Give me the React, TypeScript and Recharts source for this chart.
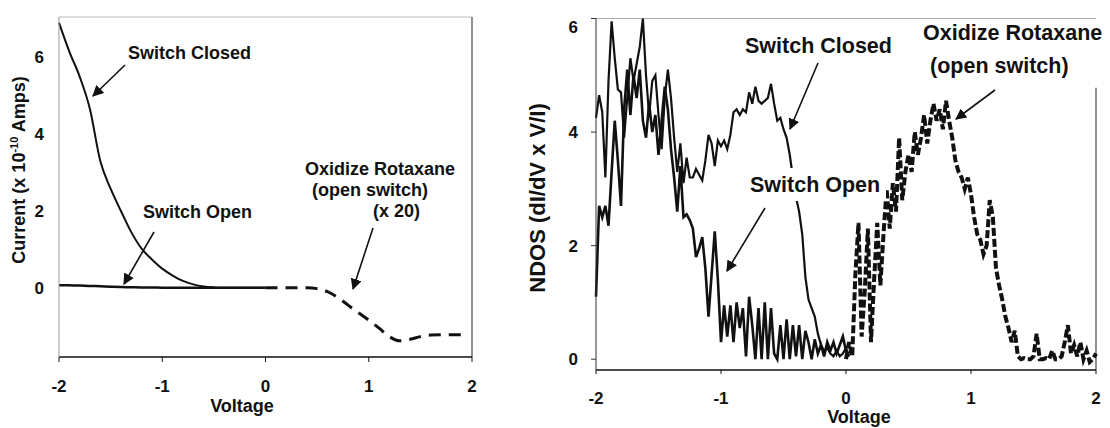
import React from 'react';
import { LineChart, Line, XAxis, YAxis, ReferenceLine } from 'recharts';

const FONT = '"Liberation Sans", Arial, Helvetica, sans-serif';
const INK = '#111';

// ---- left panel: current vs voltage (sampled every 0.1 V) ----
const ivVoltage = [
  -2, -1.9, -1.8, -1.7, -1.6, -1.5, -1.4, -1.3, -1.2, -1.1, -1, -0.9, -0.8, -0.7, -0.6, -0.5, -0.4,
  -0.3, -0.2, -0.1, 0, 0.1, 0.2, 0.3, 0.4, 0.5, 0.6, 0.7, 0.8, 0.9, 1, 1.1, 1.2, 1.3, 1.4, 1.5, 1.6,
  1.7, 1.8, 1.9,
];
// -2 .. 0 V
const closedCurrent = [
  6.9, 6.15, 5.5, 4.65, 3.3, 2.58, 2.0, 1.45, 1.02, 0.74, 0.5, 0.32, 0.18, 0.09, 0.035, 0.012, 0.004,
  0, 0, 0, 0,
];
const openCurrent = [
  0.07, 0.065, 0.06, 0.05, 0.04, 0.03, 0.02, 0.015, 0.01, 0.01, 0.005, 0.005, 0, 0, 0, 0, 0, 0, 0, 0, 0,
];
// 0 .. 1.9 V (x 20)
const oxidizeCurrent = [
  0, 0, 0, 0, 0, -0.02, -0.1, -0.25, -0.45, -0.65, -0.84, -1.05, -1.27, -1.38, -1.34, -1.27, -1.23,
  -1.22, -1.22, -1.22,
];

const voltageTicks = [-2, -1, 0, 1, 2];
const currentTicks = [0, 2, 4, 6];
const ndosTicks = [0, 2, 4, 6];

// ---- right panel: NDOS, sampled every 25 mV ----
const ndosStep = 0.025;
// -2 .. 0.025 V
const closedNdos = [
  4.25, 4.65, 4.35, 3.2, 4.9, 5.95, 5.3, 4.75, 4.7, 3.9, 4.6, 5.3, 4.9, 5.2, 5.5, 6.0, 5.0, 4.3, 4.9,
  5.0, 4.3, 3.7, 4.6, 5.1, 4.6, 3.9, 3.3, 3.8, 3.1, 3.55, 3.2, 3.2, 3.35, 3.25, 3.15, 3.5, 3.95, 3.8,
  3.4, 3.85, 3.75, 3.85, 3.7, 3.95, 4.35, 4.4, 4.3, 4.4, 4.35, 4.7, 4.5, 4.8, 4.55, 4.5, 4.55, 4.6,
  4.85, 4.5, 4.2, 4.25, 4.05, 3.9, 3.6, 3.2, 2.85, 2.6, 2.2, 1.45, 1.05, 0.9, 0.75, 0.45, 0.25, 0.15,
  0.2, 0.1, 0.05, 0.15, 0.05, 0.1, 0.2, 0.05,
];
const openNdos = [
  1.1, 2.7, 2.5, 2.7, 2.35, 3.3, 4.2, 3.5, 2.7, 4.4, 5.1, 4.3, 5.0, 4.6, 5.1, 4.2, 3.9, 4.5, 4.0, 4.3,
  3.6, 4.2, 4.8, 4.4, 3.7, 3.2, 2.6, 3.4, 2.5, 2.55, 2.45, 2.3, 1.8, 1.95, 2.15, 1.6, 0.75, 1.5, 2.25,
  1.4, 0.3, 0.95, 0.4, 0.95, 0.3, 1.0, 0.55, 0.9, 0.05, 1.1, 0.6, 0.0, 0.9, 0.0, 1.0, 0.0, 0.9, 0.1,
  0.0, 0.6, 0.0, 0.7, 0.0, 0.6, 0.05, 0.6, 0.0, 0.5, 0.3, 0.0, 0.35, 0.1, 0.25, 0.05, 0.3, 0.15, 0.3,
  0.1, 0.25, 0.4, 0.15, 0.05,
];
// 0 .. 2 V
const oxidizeNdos = [
  0.0, 0.3, 0.05, 1.5, 2.4, 0.4, 1.2, 2.3, 0.3, 1.4, 2.4, 1.3, 2.2, 3.0, 2.3, 3.1, 2.6, 3.9, 2.8, 3.3,
  3.6, 3.3, 4.0, 3.6, 3.9, 4.3, 3.8, 4.2, 4.5, 4.2, 4.4, 4.05, 4.55, 4.2, 3.9, 3.5, 3.3, 3.2, 3.0, 3.2,
  2.9, 2.5, 2.2, 2.1, 1.85, 2.0, 2.8, 2.5, 1.6, 1.3, 1.05, 0.75, 0.55, 0.3, 0.5, 0.05, 0.0, 0.02, 0.0,
  0.0, 0.05, 0.45, 0.0, 0.0, 0.02, 0.0, 0.15, 0.0, 0.0, 0.05, 0.3, 0.6, 0.1, 0.25, 0.05, 0.3, 0.0, 0.15,
  -0.05, 0.0, 0.1,
];

const ivRows = ivVoltage.map((v, i) => ({
  v,
  closed: i <= 20 ? closedCurrent[i] : undefined,
  open: i <= 20 ? openCurrent[i] : undefined,
  ox: i >= 20 ? oxidizeCurrent[i - 20] : undefined,
}));

const ndosRows = Array.from({ length: 161 }, (_, i) => ({
  v: Math.round((-2 + i * ndosStep) * 1000) / 1000,
  closed: closedNdos[i],
  open: openNdos[i],
  ox: i >= 80 ? oxidizeNdos[i - 80] : undefined,
}));

const tickFont = { fontFamily: FONT, fontWeight: 700, fontSize: 17, fill: INK };

function XTick(props: any) {
  const { x, y, payload } = props;
  return (
    <text x={x} y={y} dy="0.71em" textAnchor="middle" {...tickFont}>
      {payload.value}
    </text>
  );
}

// the top label on the NDOS axis sits a little lower than its tick in the original
function YTick(props: any) {
  const { x, y, payload, minY = 0 } = props;
  return (
    <text x={x} y={Math.max(y, minY)} dy="0.355em" textAnchor="end" {...tickFont}>
      {payload.value}
    </text>
  );
}

function Arrow({ x1, y1, x2, y2 }: { x1: number; y1: number; x2: number; y2: number }) {
  return <line x1={x1} y1={y1} x2={x2} y2={y2} stroke={INK} strokeWidth={1.6} markerEnd="url(#head)" />;
}

export default function App() {
  const ann = { fontFamily: FONT, fontWeight: 700, fill: INK };
  return (
    <div style={{ position: 'absolute', left: 0, top: 0, width: 1110, height: 428, background: '#fff', overflow: 'hidden' }}>
      <div style={{ position: 'absolute', left: 0, top: 0 }}>
        {/* plot area: x 59..472, y 17..357 */}
        <LineChart width={540} height={428} data={ivRows} margin={{ top: 17, right: 68, bottom: 41, left: 15 }}>
          <XAxis
            dataKey="v"
            type="number"
            domain={[-2, 2]}
            ticks={voltageTicks}
            height={30}
            tickSize={5}
            tickMargin={18}
            stroke="#111"
            axisLine={{ stroke: '#111', strokeWidth: 1.5 }}
            tick={<XTick />}
          />
          <YAxis
            type="number"
            domain={[-1.8, 7.05]}
            ticks={currentTicks}
            width={44}
            tickLine={false}
            tickSize={0}
            tickMargin={15}
            axisLine={{ stroke: '#999' }}
            tick={<YTick />}
          />
          <ReferenceLine y={7.05} stroke="#bbb" />
          <ReferenceLine x={2} stroke="#555" strokeWidth={1.3} />
          <Line dataKey="closed" type="monotone" stroke={INK} strokeWidth={2} dot={false} isAnimationActive={false} />
          <Line dataKey="open" type="monotone" stroke={INK} strokeWidth={2.5} dot={false} isAnimationActive={false} />
          <Line
            dataKey="ox"
            type="monotone"
            stroke={INK}
            strokeWidth={3}
            strokeDasharray="12 8"
            dot={false}
            isAnimationActive={false}
          />
        </LineChart>
      </div>

      <div style={{ position: 'absolute', left: 540, top: 0 }}>
        {/* plot area: x 596..1096, y 18.5..370 */}
        <LineChart width={570} height={428} data={ndosRows} margin={{ top: 18.5, right: 14, bottom: 28, left: 16 }}>
          <XAxis
            dataKey="v"
            type="number"
            domain={[-2, 2]}
            ticks={voltageTicks}
            height={30}
            tickSize={4}
            tickMargin={18}
            stroke="#111"
            axisLine={{ stroke: '#111', strokeWidth: 1.5 }}
            tick={<XTick />}
          />
          <YAxis
            type="number"
            domain={[-0.19, 6]}
            ticks={ndosTicks}
            width={40}
            tickSize={5}
            tickMargin={13}
            stroke="#333"
            axisLine={{ stroke: '#333' }}
            tick={<YTick minY={27} />}
          />
          <ReferenceLine y={6} stroke="#aaa" />
          <ReferenceLine segment={[{ x: 2, y: -0.19 }, { x: 2, y: 4.78 }]} stroke="#555" strokeWidth={1.3} />
          <Line dataKey="open" type="linear" stroke={INK} strokeWidth={2.6} dot={false} isAnimationActive={false} />
          <Line dataKey="closed" type="linear" stroke={INK} strokeWidth={2.2} dot={false} isAnimationActive={false} />
          <Line
            dataKey="ox"
            type="linear"
            stroke={INK}
            strokeWidth={4}
            strokeDasharray="8 3"
            dot={false}
            isAnimationActive={false}
          />
        </LineChart>
      </div>

      <svg width={1110} height={428} style={{ position: 'absolute', left: 0, top: 0, pointerEvents: 'none' }}>
        <defs>
          <marker id="head" viewBox="0 0 10 10" refX="9" refY="5" markerWidth="7" markerHeight="7" orient="auto">
            <path d="M0,0 L10,5 L0,10 z" fill={INK} />
          </marker>
        </defs>

        {/* left panel titles */}
        <text x={242} y={412} textAnchor="middle" fontSize={18} {...ann}>Voltage</text>
        <text transform="translate(25,170) rotate(-90)" textAnchor="middle" fontSize={18} {...ann}>
          Current (x 10<tspan dy={-7} fontSize={11}>-10</tspan>
          <tspan dy={7}> Amps)</tspan>
        </text>

        {/* left panel annotations */}
        <text x={128} y={59} fontSize={18} {...ann}>Switch Closed</text>
        <Arrow x1={125} y1={65} x2={93} y2={96} />
        <text x={143} y={218} fontSize={18} {...ann}>Switch Open</text>
        <Arrow x1={154} y1={232} x2={124} y2={284} />
        <text x={305} y={175} fontSize={18} {...ann}>Oxidize Rotaxane</text>
        <text x={312} y={196} fontSize={18} {...ann}>(open switch)</text>
        <text x={373} y={217} fontSize={18} {...ann}>(x 20)</text>
        <Arrow x1={373} y1={228} x2={353} y2={289} />

        {/* right panel titles */}
        <text x={859} y={423} textAnchor="middle" fontSize={18} {...ann}>Voltage</text>
        <text transform="translate(545,198) rotate(-90)" textAnchor="middle" fontSize={22} {...ann}>
          NDOS (dI/dV x V/I)
        </text>

        {/* right panel annotations */}
        <text x={745} y={53} fontSize={21.5} {...ann}>Switch Closed</text>
        <Arrow x1={818} y1={63} x2={790} y2={129} />
        <rect x={748} y={168} width={138} height={33} fill="#fff" />
        <text x={750} y={192} fontSize={21.5} {...ann}>Switch Open</text>
        <Arrow x1={765} y1={208} x2={727} y2={271} />
        <text x={923} y={40} fontSize={21.5} {...ann}>Oxidize Rotaxane</text>
        <text x={930} y={73} fontSize={21.5} {...ann}>(open switch)</text>
        <Arrow x1={995} y1={90} x2={956} y2={119} />
      </svg>
    </div>
  );
}
